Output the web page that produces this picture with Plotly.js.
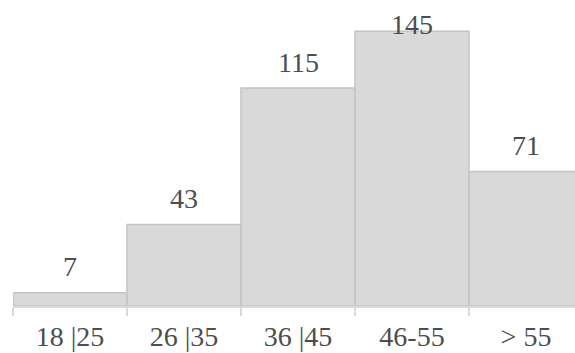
<!DOCTYPE html>
<html>
<head>
<meta charset="utf-8">
<script src="https://cdn.plot.ly/plotly-3.0.1.min.js"></script>
<style>
html,body{margin:0;padding:0;overflow:hidden;background:#fff;}
#chart{width:583px;height:353px;}
</style>
</head>
<body>
<div id="chart"></div>
<script>
const categories = ["18 |25", "26 |35", "36 |45", "46-55", "> 55"];
const counts = [7, 43, 115, 145, 71];

const W = 583, H = 353;
const M = {l: 13, r: 0, t: 5, b: 47};
const yMax = 158.8;
const plotH = H - M.t - M.b;
const pxPerUnit = plotH / yMax;

const annotations = categories.map((c, i) => {
  const topPx = M.t + (yMax - counts[i]) * pxPerUnit;
  const shift = Math.min(26, topPx - 24);
  return {
    x: c, y: counts[i], xref: 'x', yref: 'y',
    text: String(counts[i]), showarrow: false,
    yanchor: 'middle', yshift: shift,
    font: {family: 'Liberation Serif, Times New Roman, serif', size: 28, color: '#4d4d4d'}
  };
});

const trace = {
  type: 'bar',
  x: categories,
  y: counts,
  marker: {color: '#d9d9d9', line: {color: '#c4c4c4', width: 1.5}},
  hoverinfo: 'none'
};

const layout = {
  width: W, height: H,
  margin: M,
  paper_bgcolor: '#fff', plot_bgcolor: '#fff',
  bargap: 0,
  showlegend: false,
  xaxis: {
    type: 'category',
    tickson: 'boundaries',
    ticks: 'outside', ticklen: 8, tickwidth: 1.5, tickcolor: '#d9d9d9',
    showline: true, linecolor: '#d9d9d9', linewidth: 1.5,
    showgrid: false, zeroline: false,
    tickfont: {family: 'Liberation Serif, Times New Roman, serif', size: 28, color: '#4d4d4d'},
    ticklabelstandoff: 5
  },
  yaxis: {
    range: [0, yMax], visible: false, showgrid: false, zeroline: false, fixedrange: true
  },
  annotations: annotations
};

Plotly.newPlot('chart', [trace], layout, {staticPlot: true, displayModeBar: false});
</script>
</body>
</html>
